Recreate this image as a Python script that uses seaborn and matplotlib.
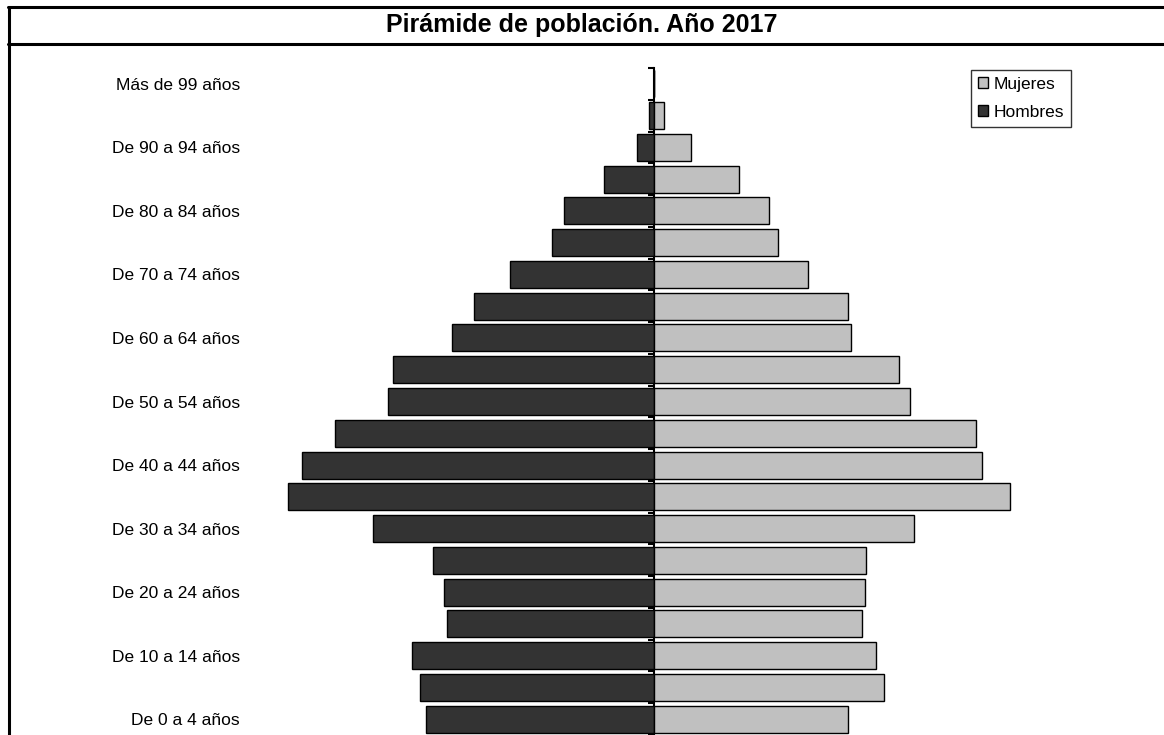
import numpy as np
import pandas as pd
import matplotlib.pyplot as plt
from matplotlib.patches import Patch
from matplotlib.lines import Line2D
import seaborn as sns

# Grupos de edad, de menor a mayor
grupos = ['De 0 a 4 años', 'De 5 a 9 años', 'De 10 a 14 años', 'De 15 a 19 años',
          'De 20 a 24 años', 'De 25 a 29 años', 'De 30 a 34 años', 'De 35 a 39 años',
          'De 40 a 44 años', 'De 45 a 49 años', 'De 50 a 54 años', 'De 55 a 59 años',
          'De 60 a 64 años', 'De 65 a 69 años', 'De 70 a 74 años', 'De 75 a 79 años',
          'De 80 a 84 años', 'De 85 a 89 años', 'De 90 a 94 años', 'De 95 a 99 años',
          'Más de 99 años']

# Valores estimados a partir del gráfico (misma escala, sin ejes numéricos)
hombres = [228, 234, 242, 207, 210, 221, 281, 366, 352, 319, 266, 261,
           202, 180, 144, 102, 90, 50, 17, 5, 0]
mujeres = [194, 230, 222, 208, 211, 212, 260, 356, 328, 322, 256, 245,
           197, 194, 154, 124, 115, 85, 37, 10, 0]

colores = {'Hombres': '#333333', 'Mujeres': '#c0c0c0'}

df = pd.DataFrame({
    'grupo': grupos * 2,
    'valor': [-v for v in hombres] + mujeres,
    'sexo': ['Hombres'] * len(grupos) + ['Mujeres'] * len(grupos),
})

sns.set_style('white')
plt.rcParams['font.family'] = ['Liberation Sans', 'DejaVu Sans']
plt.rcParams['text.color'] = 'black'

W, H = 1164, 735
fig = plt.figure(figsize=(W / 100, H / 100), dpi=100)
# ejes: eje central en x=654 px, categorías de y=68 a y=735 px
ax = fig.add_axes([254 / W, 0, 800 / W, (H - 68) / H])

orden = grupos[::-1]  # la primera categoría queda arriba
sns.barplot(data=df, x='valor', y='grupo', hue='sexo', order=orden,
            hue_order=['Hombres', 'Mujeres'], palette=colores, dodge=False,
            orient='h', width=0.85, edgecolor='black', linewidth=1,
            legend=False, ax=ax)

ax.set_xlim(-400, 400)
ax.set_ylim(len(grupos) - 0.5, -0.5)
ax.set_xlabel('')
ax.set_ylabel('')
ax.set_xticks([])
for s in ax.spines.values():
    s.set_visible(False)

# etiquetas en una de cada dos categorías
etiquetas = [g if (len(grupos) - 1 - i) % 2 == 0 else '' for i, g in enumerate(orden)]
ax.set_yticks(range(len(orden)))
ax.set_yticklabels(etiquetas, fontsize=12.5, color='black')
ax.tick_params(axis='y', length=0, pad=10)

# eje vertical central con marcas entre categorías
sec = ax.secondary_yaxis(0.5)
sec.set_yticks(np.arange(-0.5, len(grupos), 1))
sec.set_yticklabels([])
sec.yaxis.set_ticks_position('left')
sec.tick_params(axis='y', length=4, width=1.5, direction='out', color='black')
for nombre, s in sec.spines.items():
    s.set_visible(nombre == 'left')
sec.spines['left'].set_linewidth(1.5)
sec.spines['left'].set_color('black')

# leyenda
handles = [Patch(facecolor=colores['Mujeres'], edgecolor='black', label='Mujeres'),
           Patch(facecolor=colores['Hombres'], edgecolor='black', label='Hombres')]
leg = fig.legend(handles=handles, loc='upper left', bbox_to_anchor=(971 / W, 1 - 70 / H),
                 borderaxespad=0, fancybox=False, frameon=True, fontsize=12.5,
                 handlelength=0.6, handleheight=0.6, handletextpad=0.3,
                 labelspacing=0.75, borderpad=0.4)
leg.get_frame().set_edgecolor('black')
leg.get_frame().set_linewidth(1)
for t in leg.get_texts():
    t.set_color('black')

# título con marco
fig.text(0.5, 1 - 25 / H, 'Pirámide de población. Año 2017', ha='center', va='center',
         fontsize=18, fontweight='bold', color='black')
lw = 2.2
fig.add_artist(Line2D([9 / W, 9 / W], [0, 1 - 6.5 / H], color='black', lw=lw,
                      transform=fig.transFigure))
fig.add_artist(Line2D([8 / W, 1], [1 - 6.5 / H, 1 - 6.5 / H], color='black', lw=lw,
                      transform=fig.transFigure))
fig.add_artist(Line2D([8 / W, 1], [1 - 44 / H, 1 - 44 / H], color='black', lw=lw,
                      transform=fig.transFigure))

fig.savefig('out.png', dpi=100)
